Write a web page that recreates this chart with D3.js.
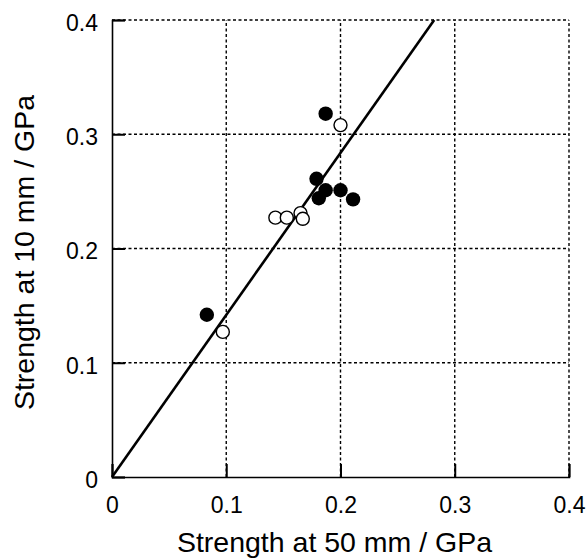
<!DOCTYPE html>
<html>
<head>
<meta charset="utf-8">
<script src="https://cdn.jsdelivr.net/npm/d3@7"></script>
<style>
  body { margin: 0; background: #fff; }
  svg text { font-family: "Liberation Sans", Arial, Helvetica, sans-serif; fill: #000; }
</style>
</head>
<body>
<div id="chart"></div>
<script>
// strength at 50 mm (x) vs strength at 10 mm (y), GPa
const filledX = [0.083, 0.187, 0.179, 0.181, 0.187, 0.200, 0.211];
const filledY = [0.142, 0.318, 0.261, 0.244, 0.251, 0.251, 0.243];
const openX = [0.097, 0.200, 0.143, 0.153, 0.165, 0.167];
const openY = [0.127, 0.308, 0.227, 0.227, 0.231, 0.226];
const fitX = [0, 0.282];
const fitY = [0, 0.4];
const ticks = [0, 0.1, 0.2, 0.3, 0.4];
const tickLabels = ['0', '0.1', '0.2', '0.3', '0.4'];

const width = 587, height = 558;
const margin = { top: 20, right: 18, bottom: 81, left: 112 };

const svg = d3.select('#chart').append('svg')
  .attr('width', width)
  .attr('height', height);

const x = d3.scaleLinear().domain([0, 0.4]).range([margin.left, width - margin.right]);
const y = d3.scaleLinear().domain([0, 0.4]).range([height - margin.bottom, margin.top]);

// dotted grid, including top and right frame
const grid = svg.append('g').attr('class', 'grid')
  .attr('stroke', '#000').attr('stroke-width', 1.4).attr('stroke-dasharray', '3,2.5');
grid.selectAll('line.v').data(ticks.slice(1)).join('line')
  .attr('x1', d => x(d)).attr('x2', d => x(d))
  .attr('y1', y(0)).attr('y2', y(0.4));
grid.selectAll('line.h').data(ticks.slice(1)).join('line')
  .attr('x1', x(0)).attr('x2', x(0.4))
  .attr('y1', d => y(d)).attr('y2', d => y(d));

// axes: solid left and bottom, ticks pointing inward
const xAxis = d3.axisBottom(x).tickValues(ticks).tickSize(-13).tickPadding(20)
  .tickFormat((d, i) => tickLabels[i]);
const yAxis = d3.axisLeft(y).tickValues(ticks).tickSize(-13).tickPadding(14)
  .tickFormat((d, i) => tickLabels[i]);

const gx = svg.append('g').attr('transform', `translate(0,${y(0)})`).call(xAxis);
const gy = svg.append('g').attr('transform', `translate(${x(0)},0)`).call(yAxis);

[gx, gy].forEach(g => {
  g.select('.domain').attr('stroke', '#000').attr('stroke-width', 1.6);
  g.selectAll('.tick line').attr('stroke', '#000').attr('stroke-width', 2);
  g.selectAll('.tick text').attr('font-size', 23).attr('fill', '#000')
    .attr('font-family', '"Liberation Sans", Arial, sans-serif');
});
gy.selectAll('.tick text').attr('dy', '0.45em');

// fitted line through origin
svg.append('line')
  .attr('x1', x(fitX[0])).attr('y1', y(fitY[0]))
  .attr('x2', x(fitX[1])).attr('y2', y(fitY[1]))
  .attr('stroke', '#000').attr('stroke-width', 2.6);

// points
const openPts = openX.map((v, i) => [v, openY[i]]);
const filledPts = filledX.map((v, i) => [v, filledY[i]]);

svg.append('g').selectAll('circle').data(openPts).join('circle')
  .attr('cx', d => x(d[0])).attr('cy', d => y(d[1])).attr('r', 6.5)
  .attr('fill', '#fff').attr('stroke', '#000').attr('stroke-width', 1.4);

svg.append('g').selectAll('circle').data(filledPts).join('circle')
  .attr('cx', d => x(d[0])).attr('cy', d => y(d[1])).attr('r', 7.2)
  .attr('fill', '#000');

// axis titles
svg.append('text')
  .attr('x', (x(0) + x(0.4)) / 2 - 6).attr('y', 552)
  .attr('text-anchor', 'middle').attr('font-size', 28.5)
  .text('Strength at 50 mm / GPa');

svg.append('text')
  .attr('transform', `translate(34,${(y(0) + y(0.4)) / 2 + 4}) rotate(-90)`)
  .attr('text-anchor', 'middle').attr('font-size', 28.5)
  .text('Strength at 10 mm / GPa');
</script>
</body>
</html>
